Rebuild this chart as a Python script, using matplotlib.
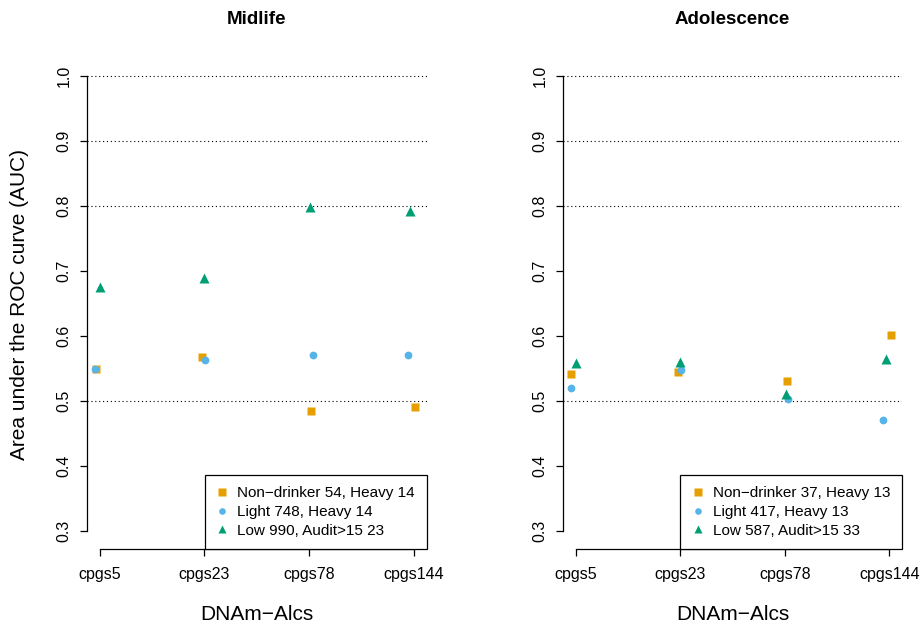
import matplotlib
matplotlib.use("Agg")
import matplotlib.pyplot as plt
from matplotlib.lines import Line2D

plt.rcParams["font.family"] = ["Liberation Sans", "DejaVu Sans"]

# data
probes = ["cpgs5", "cpgs23", "cpgs78", "cpgs144"]
pos = [1, 2, 3, 4]
colors = ["#E69F00", "#56B4E9", "#009E73"]
markers = ["s", "o", "^"]
msizes = [6.0, 5.6, 6.8]

# midlife
mid_labels = ["Non\u2212drinker 54, Heavy 14", "Light 748, Heavy 14", "Low 990, Audit>15 23"]
mid_auc = [
    [0.549, 0.567, 0.484, 0.490],
    [0.549, 0.563, 0.570, 0.570],
    [0.675, 0.689, 0.799, 0.792],
]
mid_jit = [
    [-0.04, -0.026, 0.016, 0.012],
    [-0.045, 0.003, 0.035, -0.055],
    [0.0, -0.007, 0.007, -0.035],
]

# adolescence
ado_labels = ["Non\u2212drinker 37, Heavy 13", "Light 417, Heavy 13", "Low 587, Audit>15 33"]
ado_auc = [
    [0.542, 0.545, 0.530, 0.602],
    [0.520, 0.548, 0.503, 0.471],
    [0.558, 0.560, 0.511, 0.564],
]
ado_jit = [
    [-0.04, -0.02, 0.02, 0.02],
    [-0.04, 0.01, 0.03, -0.06],
    [0.0, 0.0, 0.01, -0.03],
]

grid_lines = [0.5, 0.8, 0.9, 1.0]

W, H = 921, 626
fig = plt.figure(figsize=(W / 100, H / 100), dpi=100)


def panel(left_px, title, auc, jit, labels, ylab):
    ax = fig.add_axes([left_px / W, 1 - 549 / H, 339.5 / W, 491 / H])
    ax.set_xlim(0.876, 4.124)
    ax.set_ylim(0.272, 1.028)
    for g in grid_lines:
        ax.axhline(g, color="black", lw=0.8, ls=(0, (1, 2.5)), zorder=1)
    handles = []
    for k in range(3):
        xs = [p + j for p, j in zip(pos, jit[k])]
        ax.plot(xs, auc[k], ls="none", marker=markers[k], color=colors[k],
                ms=msizes[k], mec="none", zorder=3)
        handles.append(Line2D([], [], ls="none", marker=markers[k], color=colors[k],
                              ms=msizes[k] * 0.85, mec="none"))
    for s in ["top", "right"]:
        ax.spines[s].set_visible(False)
    ax.spines["left"].set_bounds(0.3, 1.0)
    ax.spines["bottom"].set_bounds(1, 4)
    for s in ["left", "bottom"]:
        ax.spines[s].set_linewidth(0.9)
    ax.set_xticks(pos)
    ax.set_xticklabels(probes, fontsize=11.5)
    ax.set_yticks([0.3, 0.4, 0.5, 0.6, 0.7, 0.8, 0.9, 1.0])
    ax.set_yticklabels(["0.3", "0.4", "0.5", "0.6", "0.7", "0.8", "0.9", "1.0"],
                       fontsize=11.5, rotation=90, va="center")
    ax.tick_params(axis="both", direction="out", length=5, width=0.9)
    ax.tick_params(axis="x", pad=8)
    ax.tick_params(axis="y", pad=6)
    ax.text(0.5, 1 + 38 / 491, title, transform=ax.transAxes, ha="center",
            va="center", fontsize=13.5, fontweight="bold")
    ax.text(0.5, -65 / 491, "DNAm\u2212Alcs", transform=ax.transAxes, ha="center",
            va="center", fontsize=15)
    if ylab:
        ax.text(-67 / 339.5, (549 - 304) / 491, "Area under the ROC curve (AUC)",
                transform=ax.transAxes, ha="center", va="center",
                rotation=90, fontsize=15)
    leg = ax.legend(handles, labels, loc="lower right", bbox_to_anchor=(1, 0),
                    borderaxespad=0, fontsize=11, frameon=True, fancybox=False,
                    edgecolor="black", framealpha=1, handlelength=0.8,
                    handletextpad=0.6, labelspacing=0.3, borderpad=0.75)
    leg.get_frame().set_linewidth(0.9)
    return ax


panel(87, "Midlife", mid_auc, mid_jit, mid_labels, True)
panel(562.7, "Adolescence", ado_auc, ado_jit, ado_labels, False)

fig.savefig("out.png", dpi=100)
